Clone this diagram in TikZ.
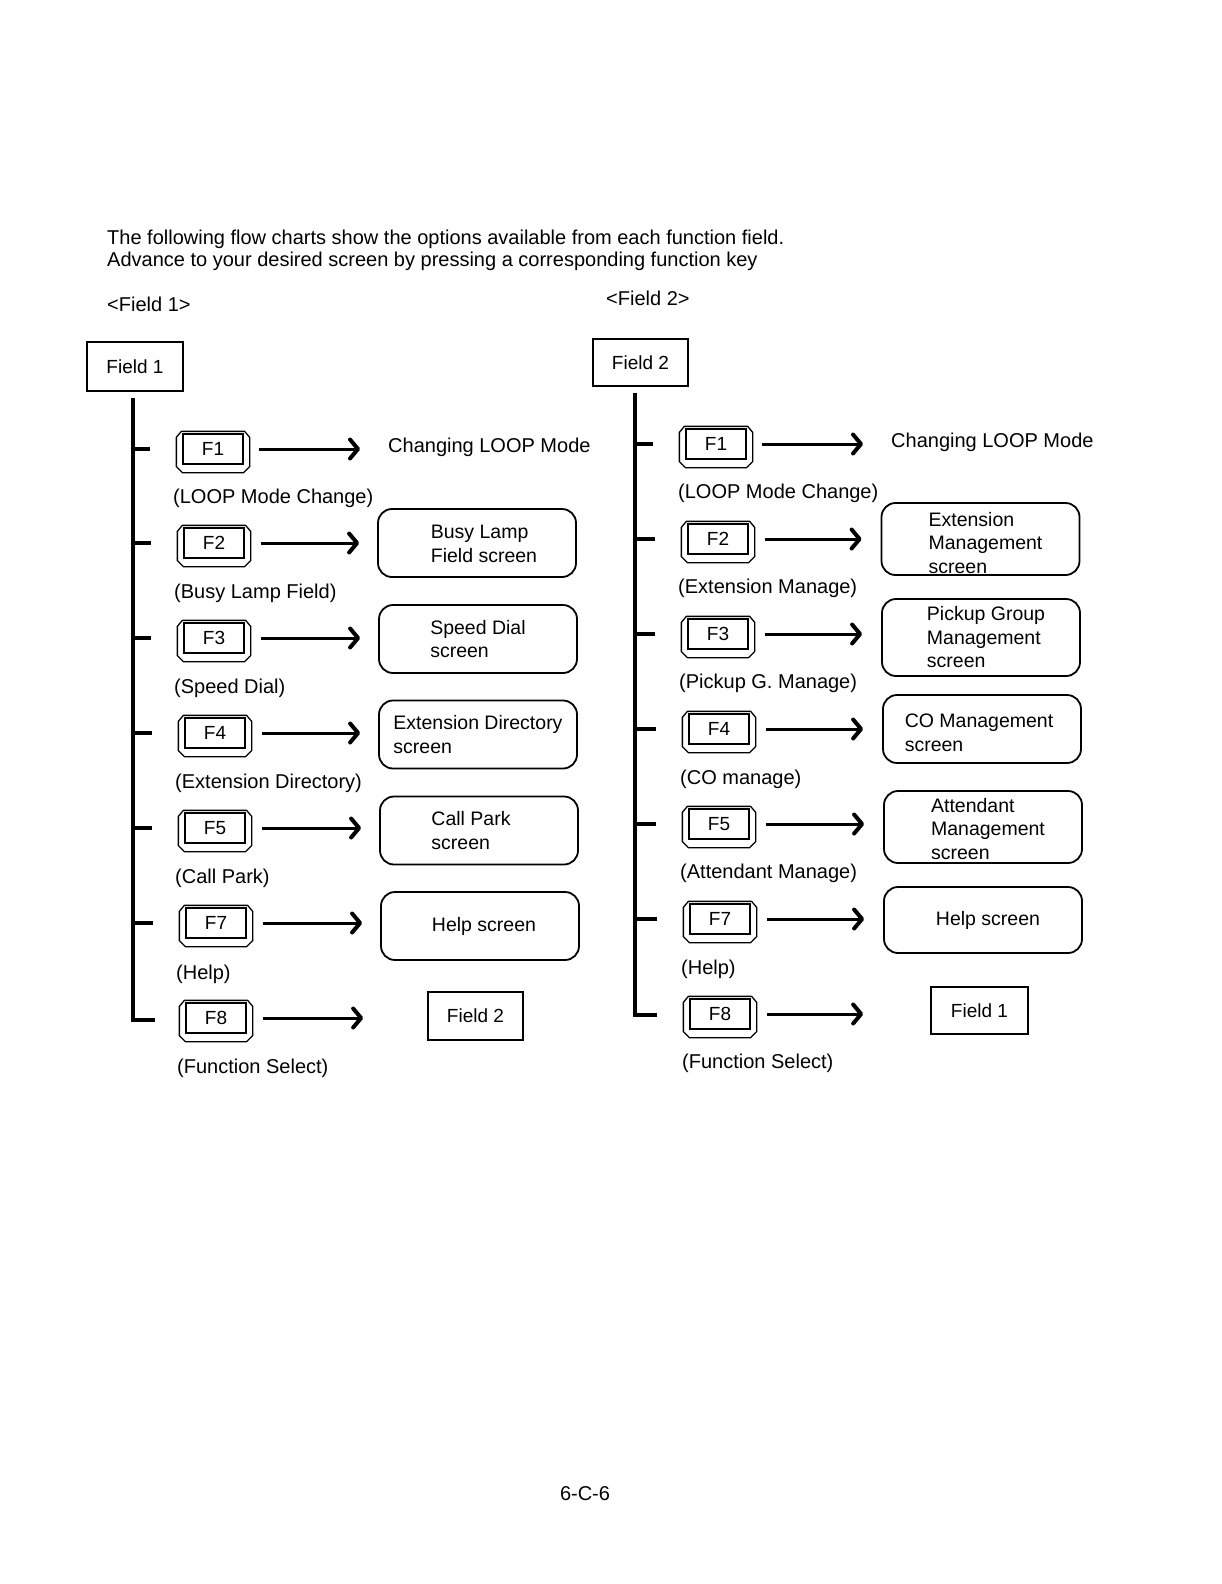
\documentclass[tikz,border=0pt]{standalone}
\usepackage{fontspec}
\setmainfont{Liberation Sans}
\usetikzlibrary{arrows.meta,calc}
\tikzset{
 txt/.style={font=\fontsize{20}{24}\selectfont, inner sep=0pt},
 lbl/.style={txt, anchor=west},
 hdr/.style={font=\fontsize{20}{24}\selectfont, inner sep=0pt, anchor=west},
 scr/.style={draw, line width=1.8pt, rounded corners=14pt, inner sep=0pt, minimum width=198pt, minimum height=68pt},
 scrtxt/.style={font=\fontsize{19.5}{23.5}\selectfont, align=left, inner sep=0pt},
 fbox/.style={draw, line width=1.7pt, font=\fontsize{19}{23}\selectfont, inner sep=0pt},
 keyin/.style={draw, line width=1.3pt, minimum width=60pt, minimum height=30pt, inner sep=0pt, font=\fontsize{19}{23}\selectfont},
 keyout/.style={line width=1.3pt, line join=round},
 arr/.style={line width=3pt, -{Straight Barb[length=8pt,width=19pt,line width=4pt,round]}},
 trunk/.style={line width=3.8pt},
}
\newcommand\fkeyat[4]{%
 \node[keyin] (#1) at (#2,#3) {#4};
 \draw[keyout] ([shift={(-6,4)}]#1.north west) -- ([shift={(-1,-2)}]#1.north west)
   -- ([shift={(1,-2)}]#1.north east) -- ([shift={(6,4)}]#1.north east)
   -- ([shift={(6,2)}]#1.south east) -- ([shift={(0,8)}]#1.south east)
   -- ([shift={(0,8)}]#1.south west) -- ([shift={(-6,2)}]#1.south west) -- cycle;
}
\begin{document}
\begin{tikzpicture}[x=1pt,y=-1pt]
\useasboundingbox (0,0) rectangle (1222,1584);
% header
\node[hdr] (h1) at (107,239) {The following flow charts show the options available from each function field.};
\node[hdr] (h2) at (107,261) {Advance to your desired screen by pressing a corresponding function key};
\node[hdr] (h3) at (107,304) {<Field 1>};
\node[hdr] (h4) at (606,298) {<Field 2>};
% ---------------- left tree
\node[fbox, minimum width=96pt, minimum height=49pt] (fa) at (135,366.5) {Field 1};
\coordinate (L0) at (133,398);
\coordinate (Lend) at (155,1020);
\draw[trunk] (L0) |- (Lend);
\fkeyat{ka1}{213}{449}{F1}
\fkeyat{ka2}{214}{543}{F2}
\fkeyat{ka3}{214}{638}{F3}
\fkeyat{ka4}{215}{733}{F4}
\fkeyat{ka5}{215}{828}{F5}
\fkeyat{ka7}{216}{923}{F7}
\fkeyat{ka8}{216}{1018}{F8}
\foreach \k in {ka1,ka2,ka3,ka4,ka5,ka7}{
  \draw[trunk] (L0 |- \k) -- ([xshift=-32pt]\k.west);
}
\node[lbl] (ta1) at (388,447) {Changing LOOP Mode};
\node[scr] (ta2) at (477,543) {};
\node[scr] (ta3) at (478,639) {};
\node[scr] (ta4) at (478,734.5) {};
\node[scr] (ta5) at (479,830.5) {};
\node[scr] (ta7) at (480,926) {};
\node[scrtxt, xshift=7pt, yshift=-1pt] at (ta2) {Busy Lamp\\Field screen};
\node[scrtxt] at (ta3) {Speed Dial\\screen};
\node[scrtxt] at (ta4) {Extension Directory\\screen};
\node[scrtxt, xshift=-8pt] at (ta5) {Call Park\\screen};
\node[scrtxt, xshift=4pt] at (ta7) {Help screen};
\node[fbox, minimum width=95pt, minimum height=48pt] (ta8) at (475.5,1016) {Field 2};
\draw[arr] ([xshift=15pt]ka1.east) -- ([xshift=-28pt]ka1.east -| ta1.west);
\foreach \i in {2,3,4,5,7}{
  \draw[arr] ([xshift=16pt]ka\i.east) -- ([xshift=-18pt]ka\i.east -| ta\i.west);
}
\draw[arr] ([xshift=16pt]ka8.east) -- ([xshift=-64pt]ka8.east -| ta8.west);
\node[lbl] (la1) at (173,498) {(LOOP Mode Change)};
\node[lbl] (la2) at (174,593) {(Busy Lamp Field)};
\node[lbl] (la3) at (174,688) {(Speed Dial)};
\node[lbl] (la4) at (175,783) {(Extension Directory)};
\node[lbl] (la5) at (175,878) {(Call Park)};
\node[lbl] (la7) at (176,974) {(Help)};
\node[lbl] (la8) at (177,1068) {(Function Select)};
% ---------------- right tree
\node[fbox, minimum width=95pt, minimum height=47pt] (fb) at (640.5,362.5) {Field 2};
\coordinate (R0) at (635,393);
\coordinate (Rend) at (657,1015);
\draw[trunk] (R0) |- (Rend);
\fkeyat{kb1}{716}{444}{F1}
\fkeyat{kb2}{718}{539}{F2}
\fkeyat{kb3}{718}{634}{F3}
\fkeyat{kb4}{719}{729}{F4}
\fkeyat{kb5}{719}{824}{F5}
\fkeyat{kb7}{720}{919}{F7}
\fkeyat{kb8}{720}{1014}{F8}
\foreach \k in {kb1,kb2,kb3,kb4,kb5,kb7}{
  \draw[trunk] (R0 |- \k) -- ([xshift=-32pt]\k.west);
}
\node[lbl] (tb1) at (891,442) {Changing LOOP Mode};
\node[scr, minimum height=72pt] (tb2) at (980.5,539) {};
\node[scr, minimum height=77pt] (tb3) at (981,637.5) {};
\node[scr] (tb4) at (982,729) {};
\node[scr, minimum height=72pt] (tb5) at (983,827) {};
\node[scr, minimum height=66pt] (tb7) at (983,920) {};
\node[scrtxt, xshift=5pt, yshift=-4pt] at (tb2) {Extension\\Management\\screen};
\node[scrtxt, xshift=5pt] at (tb3) {Pickup Group\\Management\\screen};
\node[scrtxt, xshift=-3pt, yshift=-4pt] at (tb4) {CO Management\\screen};
\node[scrtxt, xshift=5pt, yshift=-2pt] at (tb5) {Attendant\\Management\\screen};
\node[scrtxt, xshift=5pt] at (tb7) {Help screen};
\node[fbox, minimum width=97pt, minimum height=47pt] (tb8) at (979.5,1010.5) {Field 1};
\draw[arr] ([xshift=15pt]kb1.east) -- ([xshift=-28pt]kb1.east -| tb1.west);
\foreach \i in {2,3,4,5,7}{
  \draw[arr] ([xshift=16pt]kb\i.east) -- ([xshift=-19pt]kb\i.east -| tb\i.west);
}
\draw[arr] ([xshift=16pt]kb8.east) -- ([xshift=-67pt]kb8.east -| tb8.west);
\node[lbl] (lb1) at (678,493) {(LOOP Mode Change)};
\node[lbl] (lb2) at (678,588) {(Extension Manage)};
\node[lbl] (lb3) at (679,683) {(Pickup G. Manage)};
\node[lbl] (lb4) at (680,779) {(CO manage)};
\node[lbl] (lb5) at (680,873) {(Attendant Manage)};
\node[lbl] (lb7) at (681,969) {(Help)};
\node[lbl] (lb8) at (682,1063) {(Function Select)};
% page number
\node[txt] (pg) at (585,1494) {6-C-6};
\end{tikzpicture}
\end{document}
